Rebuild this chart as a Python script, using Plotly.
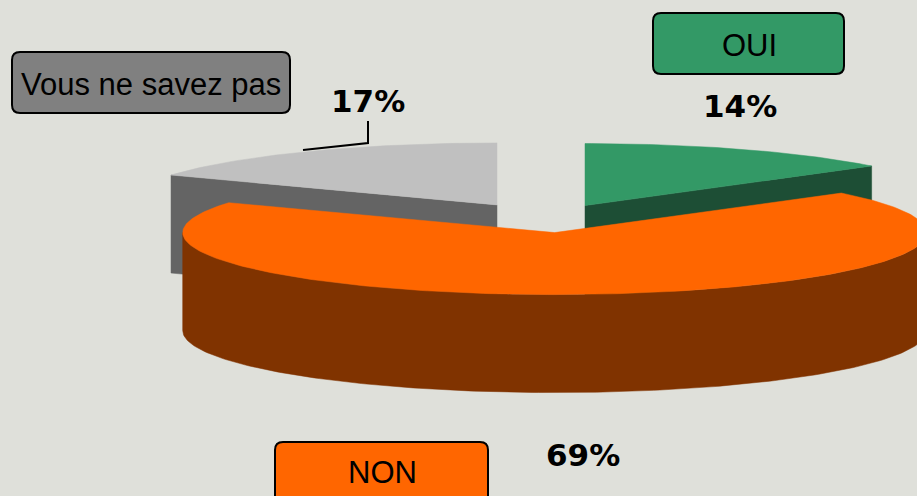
import math
import plotly.graph_objects as go

# ---- data ----
labels = ["OUI", "NON", "Vous ne savez pas"]
values = [14, 69, 17]

# ---- styles ----
top_colors = ["#339966", "#FF6600", "#C0C0C0"]
side_colors = ["#1D4E35", "#803300", "#646464"]
box_colors = ["#339966", "#FF6600", "#808080"]
explode = [0.24, 0.22, 0.264]

BG = "#DFE0DA"
W, H = 917, 496
CX, CY, RX, RY, DEPTH = 547, 219, 372, 62, 98

total = sum(values)
starts, ends = [], []
acc = 0.0
for v in values:
    starts.append(acc / total * 360.0)
    acc += v
    ends.append(acc / total * 360.0)


def rim(cx, cy, ang, dy=0.0):
    a = math.radians(ang)
    return cx + RX * math.sin(a), cy - RY * math.cos(a) + dy


def arc(cx, cy, a0, a1, dy=0.0, step=1.0):
    n = max(2, int(abs(a1 - a0) / step) + 1)
    xs, ys = [], []
    for i in range(n + 1):
        ang = a0 + (a1 - a0) * i / n
        x, y = rim(cx, cy, ang, dy)
        xs.append(x)
        ys.append(y)
    return xs, ys


fig = go.Figure()


def poly(xs, ys, color):
    fig.add_trace(go.Scatter(x=xs, y=ys, mode="lines", fill="toself",
                             fillcolor=color, line=dict(color=color, width=0.5),
                             hoverinfo="skip", showlegend=False))


centers = []
for i in range(len(values)):
    mid = math.radians((starts[i] + ends[i]) / 2)
    k = explode[i]
    centers.append((CX + RX * math.sin(mid) * k, CY - RY * math.cos(mid) * k))

# draw order: back slices first, front (NON) last
order = [2, 0, 1]
for i in order:
    cx, cy = centers[i]
    a0, a1 = starts[i], ends[i]
    # radial cut faces that face the viewer
    if i != 1:
        for ang, is_start in ((a0, True), (a1, False)):
            a = ang % 360
            vis = (is_start and 180 < a < 360) or ((not is_start) and 0 < a < 180)
            if vis:
                rx_, ry_ = rim(cx, cy, ang)
                poly([cx, rx_, rx_, cx, cx], [cy, ry_, ry_ + DEPTH, cy + DEPTH, cy], side_colors[i])
    # outer curved side (front half only)
    s0, s1 = max(a0, 90), min(a1, 270)
    if s1 > s0:
        xt, yt = arc(cx, cy, s0, s1)
        xb, yb = arc(cx, cy, s1, s0, dy=DEPTH)
        poly(xt + xb + [xt[0]], yt + yb + [yt[0]], side_colors[i])
    # top face
    xs, ys = arc(cx, cy, a0, a1)
    poly([cx] + xs + [cx], [cy] + ys + [cy], top_colors[i])


def rounded(x0, y0, x1, y1, r):
    return (f"M{x0 + r},{y0} L{x1 - r},{y0} Q{x1},{y0} {x1},{y0 + r} "
            f"L{x1},{y1 - r} Q{x1},{y1} {x1 - r},{y1} L{x0 + r},{y1} "
            f"Q{x0},{y1} {x0},{y1 - r} L{x0},{y0 + r} Q{x0},{y0} {x0 + r},{y0} Z")


box_pos = [(653, 13, 844, 74), (275, 442, 488, 530), (12, 52, 290, 113)]
text_pos = [(749, 45), (382, 472), (151, 84)]
pct_pos = [(740, 106), (583, 455), (368, 101)]

shapes = []
annotations = []
for i, lab in enumerate(labels):
    x0, y0, x1, y1 = box_pos[i]
    shapes.append(dict(type="path", path=rounded(x0, y0, x1, y1, 8), xref="x", yref="y",
                       fillcolor=box_colors[i], line=dict(color="#000000", width=2)))
    tx, ty = text_pos[i]
    annotations.append(dict(x=tx, y=ty, xref="x", yref="y", text=lab, showarrow=False,
                            font=dict(family="Liberation Sans, Arial, sans-serif",
                                      size=31, color="#000000"),
                            xanchor="center", yanchor="middle"))
    px, py = pct_pos[i]
    annotations.append(dict(x=px, y=py, xref="x", yref="y", text=f"<b>{values[i]}%</b>",
                            showarrow=False,
                            font=dict(family="DejaVu Sans", size=31, color="#000000"),
                            xanchor="center", yanchor="middle"))

# leader line for the 17% label
shapes.append(dict(type="path", path="M303,150 L368,143 L368,121", xref="x", yref="y",
                   line=dict(color="#000000", width=2)))

fig.update_layout(
    width=W, height=H, margin=dict(l=0, r=0, t=0, b=0),
    paper_bgcolor=BG, plot_bgcolor=BG, showlegend=False,
    xaxis=dict(range=[0, W], visible=False, fixedrange=True),
    yaxis=dict(range=[H, 0], visible=False, fixedrange=True),
    shapes=shapes, annotations=annotations,
)

fig.write_html("out.html", config={"displayModeBar": False},
               post_script="document.body.style.margin='0';document.body.style.overflow='hidden';")
